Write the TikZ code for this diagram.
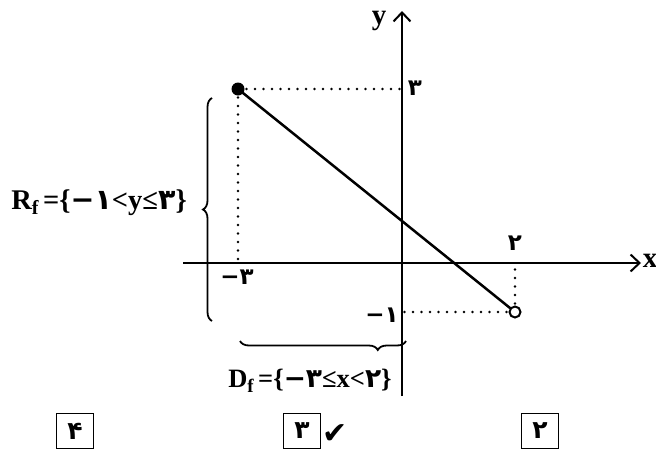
\documentclass[tikz,border=0pt]{standalone}
\usepackage{fontspec}
\setmainfont{Liberation Serif}
\newfontfamily\fa{DejaVu Sans}
\usetikzlibrary{arrows.meta,decorations.pathreplacing}
\newcommand\pd[1]{{\fa\bfseries #1}}
\tikzset{
  axis/.style={line width=2pt,-{Straight Barb[length=9pt,width=17pt,line width=2pt]}},
  guide/.style={line width=2.6pt,line cap=round,dash pattern=on 0pt off 8.5pt},
  lbl/.style={font=\fontsize{26.5}{26.5}\selectfont\bfseries,inner sep=0pt},
  axlbl/.style={font=\fontsize{29}{29}\selectfont\bfseries,inner sep=0pt},
  dig/.style={font=\fontsize{23}{23}\selectfont\fa\bfseries,inner sep=0pt},
  bracestyle/.style={line width=1.8pt,decorate,decoration={brace,amplitude=9pt}},
  choice/.style={draw,line width=1.8pt,minimum width=37pt,minimum height=35pt,inner sep=0pt,font=\fontsize{25}{25}\selectfont\fa\bfseries}
}
\begin{document}
\begin{tikzpicture}[x=1pt,y=-1pt]
\useasboundingbox (0,0) rectangle (656,453);
% axes
\coordinate (xs) at (183,263);
\coordinate (xe) at (641,263);
\coordinate (ys) at (402,396);
\coordinate (ye) at (402,11);
\draw[axis] (xs) -- (xe);
\draw[axis] (ys) -- (ye);
\node[axlbl] (xl) at (650,261) {x};
\node[axlbl] (yl) at (379,21) {y};
% reference points
\coordinate (ya) at (402,89);
\coordinate (xa) at (238,263);
\coordinate (xb) at (515,263);
\coordinate (yb) at (402,312);
\coordinate (A) at (238,89);
\coordinate (B) at (515,312);
\draw[guide] (A) -- (ya);
\draw[guide] (A) -- (xa);
\draw[guide] (B) -- (yb);
\draw[guide] (B) -- (xb);
\draw[line width=2.5pt] (A) -- (B);
\node[circle,fill=black,minimum size=13pt,inner sep=0pt] (Ad) at (A) {};
\node[circle,draw=black,fill=white,line width=2pt,minimum size=11pt,inner sep=0pt] (Bd) at (B) {};
% tick labels
\node[dig] (t3) at (415,88) {۳};
\node[dig] (tm3) at (237,277) {−۳};
\node[dig] (t2) at (515,243) {۲};
\node[dig] (tm1) at (382,315) {−۱};
% braces
\coordinate (lb1) at (212,321);
\coordinate (lb2) at (212,98);
\draw[bracestyle,decoration={aspect=0.5}] (lb1) -- (lb2);
\coordinate (bb1) at (406,341);
\coordinate (bb2) at (240,341);
\draw[bracestyle,decoration={aspect=0.17}] (bb1) -- (bb2);
% set labels
\node[lbl,font=\fontsize{28.5}{28.5}\selectfont\bfseries] (Rf) at (99,203) {R\raisebox{-5pt}{\fontsize{20}{20}\selectfont f}\,=\{\pd{−۱}<y≤\pd{۳}\}};
\node[lbl] (Df) at (310,381) {D\raisebox{-5pt}{\fontsize{19}{19}\selectfont f}\,=\{\pd{−۳}≤x<\pd{۲}\}};
% choices
\node[choice] (c4) at (75,431) {۴};
\node[choice] (c3) at (302,431) {۳};
\node[choice] (c2) at (540,431) {۲};
\node[font=\fontsize{30}{30}\selectfont\fa,inner sep=0pt,anchor=west] (chk) at ([xshift=1pt,yshift=-3pt]c3.east) {✔};
\end{tikzpicture}
\end{document}
